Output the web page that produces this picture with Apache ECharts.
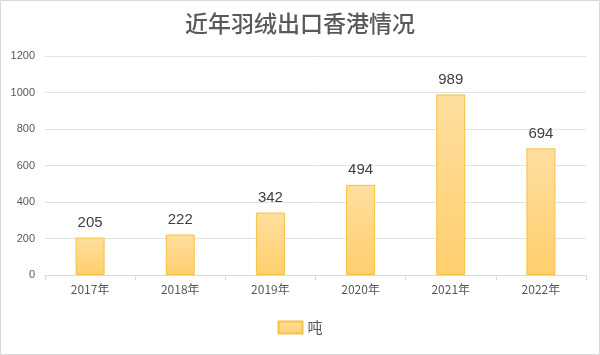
<!DOCTYPE html>
<html><head><meta charset="utf-8">
<script src="https://cdn.jsdelivr.net/npm/echarts@6/dist/echarts.min.js"></script>
<style>html,body{margin:0;padding:0;background:#fff}#c{width:600px;height:355px;box-sizing:border-box;border:1px solid #d9d9d9}</style>
</head><body><div id="c"></div>
<script>
var categories = ['2017年','2018年','2019年','2020年','2021年','2022年'];
var values = [205, 222, 342, 494, 989, 694];
var seriesName = '吨';
var titleText = '近年羽绒出口香港情况';

var chart = echarts.init(document.getElementById('c'));
chart.setOption({
  animation: false,
  title: {text: titleText, left: 'center', top: 6,
    textStyle: {fontFamily: '"Noto Sans CJK SC",serif', fontSize: 23, fontWeight: 500, color: '#595959'}},
  legend: {bottom: 14, left: 'center', itemWidth: 24, itemHeight: 12, itemGap: 6, icon: 'rect',
    textStyle: {fontFamily: '"Noto Sans CJK SC"', fontSize: 15, color: '#595959'},
    data: [seriesName]},
  grid: {left: 44, right: 13, top: 55, bottom: 79, containLabel: false},
  xAxis: {type: 'category', data: categories,
    axisLine: {lineStyle: {color: '#d9d9d9'}},
    axisTick: {show: true, length: 5, lineStyle: {color: '#d9d9d9'}},
    axisLabel: {fontFamily: '"Noto Sans CJK SC"', fontSize: 12, color: '#595959', margin: 8}},
  yAxis: {type: 'value', min: 0, max: 1200, interval: 200,
    axisLine: {show: false}, axisTick: {show: false},
    splitLine: {lineStyle: {color: '#e3e3e3'}},
    axisLabel: {fontFamily: '"Liberation Sans",Arial', fontSize: 11, color: '#595959', margin: 10,
      formatter: function (v) { return String(v); }}},
  series: [{name: seriesName, type: 'bar', data: values, barWidth: 29,
    itemStyle: {borderColor: '#F5C242', borderWidth: 1,
      color: new echarts.graphic.LinearGradient(0,0,0,1,[{offset:0,color:'#FFDE9E'},{offset:1,color:'#FFCF6E'}])},
    label: {show: true, position: 'top', distance: 7, fontFamily: '"Liberation Sans",Arial', fontSize: 15, color: '#404040'}}]
});
</script></body></html>
